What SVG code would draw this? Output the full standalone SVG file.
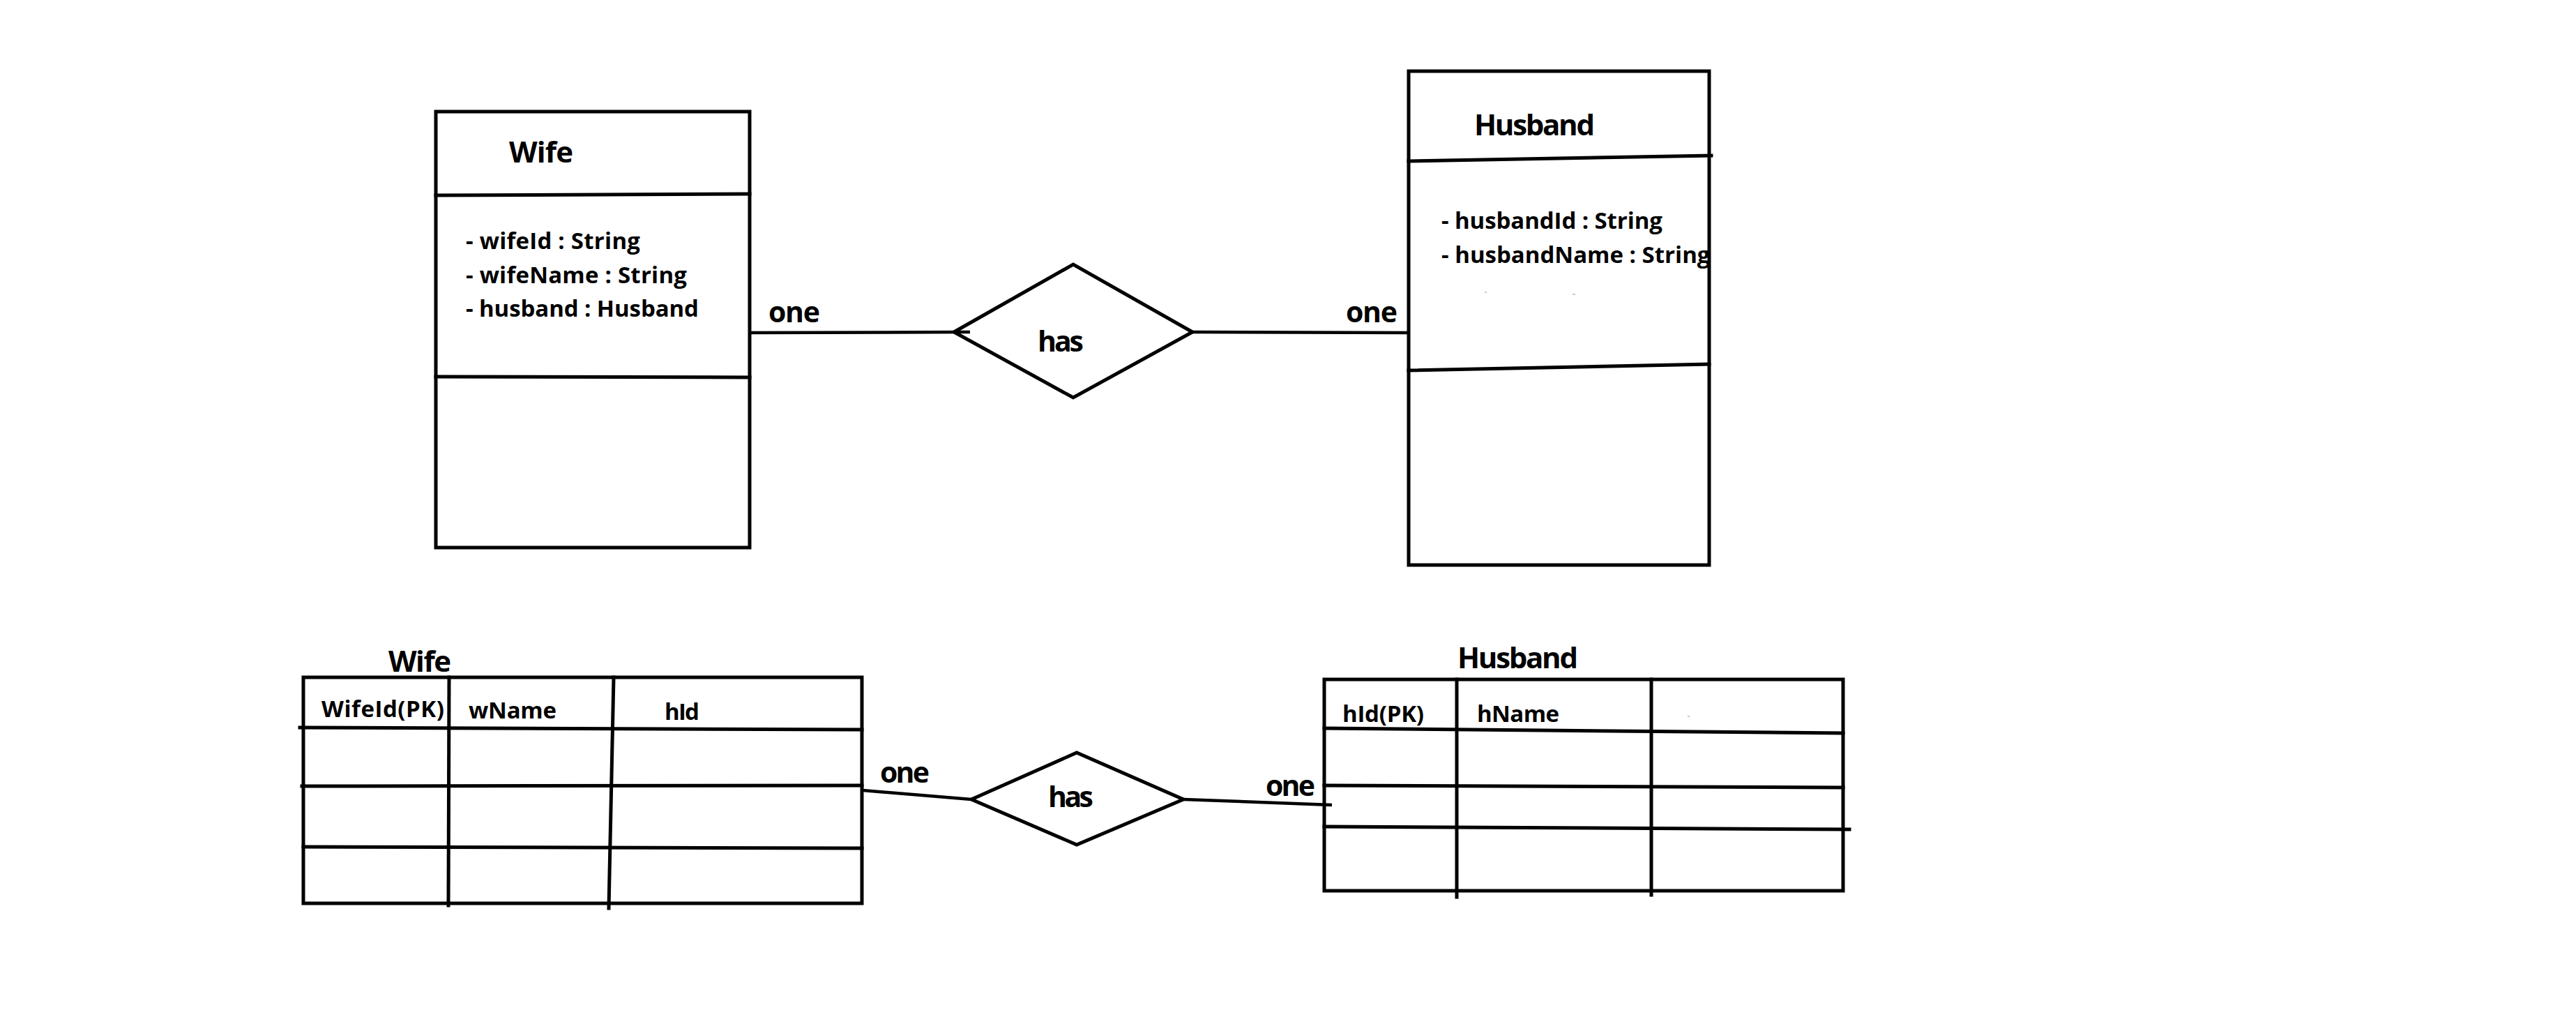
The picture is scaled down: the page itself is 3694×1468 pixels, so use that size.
<svg xmlns="http://www.w3.org/2000/svg" width="3694" height="1468" viewBox="0 0 3694 1468">
<style>
.ln{stroke:#000;stroke-width:5;fill:none;stroke-linecap:square}
.cn{stroke:#000;stroke-width:4.5;fill:none;stroke-linecap:butt}
.dm{stroke:#000;stroke-width:5;fill:#fff;stroke-linejoin:miter}
.t{font-family:"Open Sans","DejaVu Sans",sans-serif;font-weight:bold;fill:#000}
.ti{font-size:42px}
.at{font-size:33px}
.lb{font-size:41px}
.hd{font-size:33px}
.sp{fill:#c8c8c8}
</style>
<defs>
<clipPath id="hclip"><rect x="2022" y="232" width="427" height="290"/></clipPath>
</defs>
<rect width="3694" height="1468" fill="#fff"/>

<g id="connectors">
<line class="cn" x1="1075" y1="477" x2="1391" y2="476"/>
<line class="cn" x1="1710" y1="476" x2="2020" y2="477"/>
<line class="cn" x1="1237" y1="1133" x2="1393" y2="1146"/>
<line class="cn" x1="1697" y1="1146" x2="1910" y2="1154"/>
<text class="t lb" x="1102" y="462" textLength="74">one</text>
<text class="t lb" x="1930" y="462" textLength="74">one</text>
<text class="t lb" x="1262" y="1122" textLength="71">one</text>
<text class="t lb" x="1815" y="1141" textLength="71">one</text>
</g>

<g id="wife-class">
<rect class="ln" x="625" y="160" width="450" height="625"/>
<line class="ln" x1="625" y1="280" x2="1075" y2="278"/>
<line class="ln" x1="625" y1="540" x2="1075" y2="541"/>
<text class="t ti" x="730" y="233" textLength="92">Wife</text>
<text class="t at" x="668" y="357" textLength="250">- wifeId : String</text>
<text class="t at" x="668" y="406" textLength="317">- wifeName : String</text>
<text class="t at" x="668" y="454" textLength="334">- husband : Husband</text>
</g>

<g id="has-top">
<polygon class="dm" points="1368,476 1539,379 1710,476 1539,570"/>
<line class="cn" x1="1368" y1="476" x2="1391" y2="476"/>
<text class="t lb" x="1488" y="504" textLength="66">has</text>
</g>

<g id="husband-class">
<rect class="ln" x="2020" y="102" width="431" height="708"/>
<line class="ln" x1="2020" y1="231" x2="2454" y2="223"/>
<line class="ln" x1="2020" y1="531" x2="2451" y2="522"/>
<text class="t ti" x="2114" y="194" textLength="173">Husband</text>
<text class="t at" x="2067" y="328" textLength="317">- husbandId : String</text>
<text class="t at" x="2067" y="377" clip-path="url(#hclip)">- husbandName : String</text>
<rect class="sp" x="2129" y="418" width="3" height="2"/>
<rect class="sp" x="2255" y="421" width="4" height="2"/>
</g>

<g id="wife-table">
<text class="t ti" x="557" y="963" textLength="90">Wife</text>
<rect class="ln" x="435" y="971" width="801" height="324"/>
<line class="ln" x1="644" y1="971" x2="643" y2="1298"/>
<line class="ln" x1="880" y1="971" x2="873" y2="1302"/>
<line class="ln" x1="430" y1="1043" x2="1236" y2="1046"/>
<line class="ln" x1="433" y1="1127" x2="1236" y2="1126"/>
<line class="ln" x1="435" y1="1214" x2="1236" y2="1216"/>
<text class="t hd" x="461" y="1028" textLength="176">WifeId(PK)</text>
<text class="t hd" x="672" y="1030" textLength="126">wName</text>
<text class="t hd" x="953" y="1032" textLength="50">hId</text>
</g>

<g id="has-bottom">
<polygon class="dm" points="1393,1146 1544,1079 1697,1146 1544,1211"/>
<text class="t lb" x="1503" y="1157" textLength="65">has</text>
</g>

<g id="husband-table">
<text class="t ti" x="2090" y="958" textLength="173">Husband</text>
<rect class="ln" x="1899" y="974" width="744" height="303"/>
<line class="ln" x1="2089" y1="974" x2="2089" y2="1286"/>
<line class="ln" x1="2368" y1="974" x2="2368" y2="1283"/>
<line class="ln" x1="1899" y1="1044" x2="2643" y2="1051"/>
<line class="ln" x1="1899" y1="1126" x2="2643" y2="1129"/>
<line class="ln" x1="1899" y1="1185" x2="2652" y2="1189"/>
<text class="t hd" x="1925" y="1035" textLength="117">hId(PK)</text>
<text class="t hd" x="2118" y="1035" textLength="118">hName</text>
<rect class="sp" x="2420" y="1026" width="3" height="2"/>
</g>
</svg>
